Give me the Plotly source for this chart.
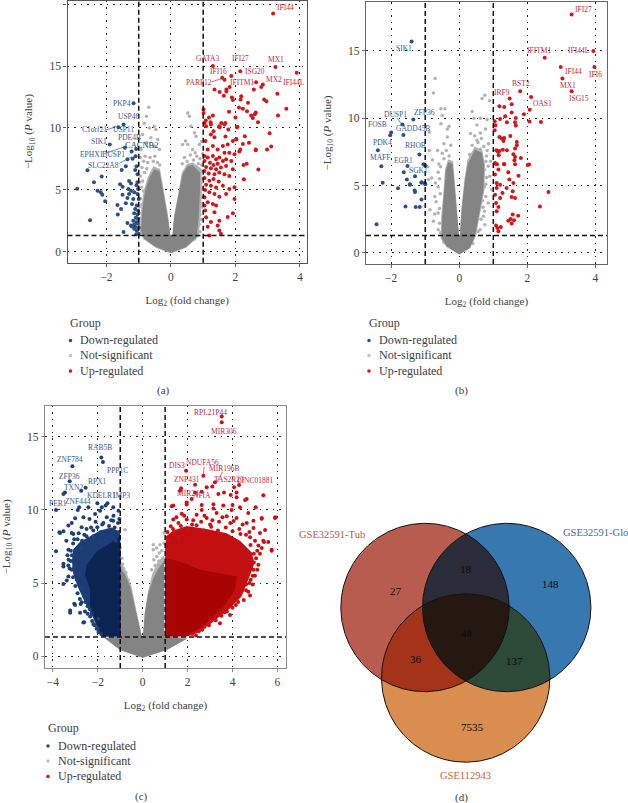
import numpy as np
import plotly.graph_objects as go

W, H = 628, 803
SERIF = "Liberation Serif"
BLUE, RED, LGREY, DGREY = "#2d4f86", "#d2161c", "#b2b2b2", "#848484"
TXT = "#404040"

# ---------- panel (a) ----------
A_DOWN = [(-1.16,12.0),(-1.47,10.27),(-1.63,10.05),(-1.9,8.66),(-1.43,8.4),(-1.35,7.46),(-1.19,7.5),(-1.1,7.7),(-1.22,8.1),(-1.08,8.3),
(-2.59,6.58),(-2.15,6.07),(-2.39,5.6),(-2.91,5.08),(-2.28,4.92),(-2.18,4.79),(-2.13,4.6),(-2.04,4.06),(-2.51,2.54),(-1.66,3.77),(-1.55,3.45),(-1.65,3.0),(-1.47,1.58),(-1.35,2.3),(-1.24,2.11),
(-1.58,5.45),(-1.5,5.24),(-1.5,4.6),(-1.53,6.6),(-1.4,6.9),(-1.07,6.9),(-1.04,6.25),(-1.11,6.6),(-1.3,5.7),(-1.24,5.5),(-1.04,5.6),(-1.07,5.37),(-1.32,5.05),(-1.24,4.92),(-1.14,4.8),(-1.02,5.05),(-1.3,4.65),(-1.04,4.65),(-1.35,4.33),(-1.17,4.25),(-1.0,4.25),(-1.4,3.9),(-1.21,3.85),(-1.06,3.72),(-1.11,3.45),(-1.02,3.3),(-1.14,3.1),(-1.04,3.0),(-1.09,2.73),(-1.02,2.65),(-1.17,2.5),(-1.07,2.38),(-1.14,2.19),(-1.03,2.25),(-1.21,2.03),(-1.11,1.98),(-1.0,1.92),(-1.06,1.7),(-1.14,1.85),(-1.0,1.45),(-1.08,1.4)]
A_UP = [(3.17,19.25),(1.30,15.0),(2.15,14.58),(3.24,14.93),(3.90,14.45),(1.87,14.2),(1.59,14.05),(1.66,13.9),(1.82,13.3),(1.72,13.1),(1.35,13.1),(1.51,12.9),(1.72,12.95),(2.64,13.7),(2.85,13.5),(2.8,13.3),(2.57,13.1),(3.3,12.76),(2.89,12.3),(2.96,12.15),(2.18,12.55),(2.16,12.3),(1.89,12.45),(1.64,12.6),(1.92,12.25),(2.39,12.04),(2.11,11.65),(2.23,11.55),(2.36,11.35),(2.63,11.25),(2.6,11.1),(2.49,11.0),(2.54,10.8),(2.7,10.45),(3.58,11.55),(3.32,11.0),(1.8,11.3),(2.0,10.85),(1.01,11.5),(1.01,11.2),(1.3,11.0),(1.18,10.85),(1.08,10.6),(1.23,10.45),(1.56,10.4),(1.69,10.4),(1.51,10.05),(2.06,10.1),(3.06,9.57),(2.29,9.33),(2.03,9.1),(1.69,9.3),(3.11,8.5),(2.98,8.26),(2.63,8.26),(2.42,8.8),(2.23,8.7),(2.15,8.26),
(2.71,6.63),(2.35,7.1),(2.25,7.0),(2.26,5.85),(2.63,8.2),(2.12,8.1),(1.97,5.2),(1.97,4.25),(1.92,3.1),(1.76,2.8),(1.5,2.5),(1.24,2.4),(1.14,2.0),(1.5,1.7),(1.55,1.45),(1.19,1.3),(1.45,2.1),
(1.04,10.4),(1.09,10.13),(1.24,10.27),(1.32,9.73),(1.24,9.47),(1.35,9.25),(1.5,10.13),(1.66,10.27),(1.78,9.87),(2.05,10.05),(1.07,8.93),(1.3,8.53),(1.14,8.26),(1.45,8.26),(1.61,8.53),(1.76,8.66),(1.92,8.93),(2.02,9.06),(1.81,8.0),(1.66,8.0),(1.97,7.86),
(1.04,7.73),(1.14,7.6),(1.3,7.73),(1.4,7.46),(1.5,7.6),(1.61,7.33),(1.71,7.46),(1.87,7.33),(1.04,7.33),(1.21,7.19),(1.32,7.0),(1.45,7.11),(1.09,6.84),(1.24,6.74),(1.4,6.66),(1.55,6.79),(1.71,6.92),(1.92,6.66),(1.04,6.52),(1.17,6.31),(1.35,6.26),(1.5,6.39),(1.66,6.26),(1.81,6.12),
(1.04,5.94),(1.19,5.72),(1.32,5.86),(1.48,5.67),(1.09,5.4),(1.24,5.32),(1.4,5.19),(1.61,5.32),(1.81,5.05),(1.06,4.97),(1.19,4.79),(1.35,4.65),(1.5,4.44),(1.71,4.65),(1.04,4.39),(1.14,3.98),(1.3,3.85),(1.4,3.72),(1.04,3.72),(1.06,3.32),(1.35,3.18),(1.09,2.78)]
A_NS_PTS = [(-0.69,11.66),(-0.76,10.94),(-0.52,10.13),(-0.47,9.87),(-0.67,10.0),(-0.83,10.35),(-0.88,9.47),(-0.62,9.2),(-0.41,9.06),(-0.76,8.8),(-0.52,8.53),(-0.93,8.26),(-0.36,8.26),(0.52,11.2),(0.57,10.94),(0.62,10.13),(0.45,8.93),(0.52,8.66),(0.73,9.6),(0.78,9.33),(0.88,8.66),(0.36,8.66),(0.67,8.26),(0.95,8.9),
(-0.95,7.6),(-0.85,7.3),(-0.8,7.7),(-0.72,7.2),(-0.65,7.6),(-0.55,7.3),(-0.5,7.7),(-0.42,7.2),(-0.35,7.0),(-0.9,6.8),(-0.82,6.4),(-0.75,6.7),(-0.95,6.1),(-0.88,5.7),(-0.92,5.2),(-0.85,4.9),(-0.95,4.3),(-0.9,3.8),(-0.97,3.1),(-0.93,2.7),(-0.95,2.1),(-0.9,1.7),(-0.97,5.6),(-0.98,3.6),(-0.97,2.4),
(0.35,7.1),(0.42,7.6),(0.5,7.3),(0.6,7.8),(0.7,7.4),(0.8,7.7),(0.9,7.5),(0.95,7.0),(0.85,7.1),(0.95,6.5),(0.97,5.9),(0.92,5.5),(0.98,5.1),(0.95,4.4),(0.92,3.9),(0.96,3.6),(0.9,3.0),(0.94,2.6),(0.88,2.2),(0.9,1.6),(0.8,1.3),(0.72,1.0),(0.98,7.9),(0.75,8.0)]
A_NS_HALO = [(0,-0.15),(-0.47,0.3),(-0.85,1.0),(-0.96,1.6),(-0.92,3.6),(-0.85,4.9),(-0.72,6.0),(-0.55,6.9),(-0.34,6.7),(-0.22,4.9),(-0.08,2.8),(-0.02,1.3),(0.04,1.3),(0.09,2.8),(0.24,4.9),(0.34,6.4),(0.5,7.1),(0.68,7.2),(0.95,6.7),(0.96,4.9),(0.92,2.8),(0.86,1.2),(0.47,0.3)]
A_NS_CORE = [(0,-0.1),(-0.47,0.37),(-0.83,1.04),(-0.93,1.71),(-0.88,3.58),(-0.8,4.92),(-0.67,5.99),(-0.52,6.66),(-0.36,6.52),(-0.24,4.92),(-0.1,2.78),(-0.02,1.31),(0.05,1.31),(0.1,2.78),(0.26,4.92),(0.36,6.26),(0.52,6.92),(0.67,7.0),(0.9,6.4),(0.9,4.92),(0.86,2.78),(0.8,1.18),(0.47,0.37)]

# ---------- panel (b) ----------
B_DOWN = [(-1.4,15.7),(-1.35,9.9),(-1.67,9.53),(-2.0,8.94),(-2.03,8.74),(-1.64,8.76),(-2.39,7.62),(-1.17,7.3),(-2.29,6.43),(-1.52,6.46),(-1.05,6.58),(-1.0,6.5),(-1.63,6.0),(-1.3,5.69),(-1.54,5.45),(-2.25,5.22),(-1.45,5.1),(-1.11,5.22),(-1.0,5.1),(-1.8,4.8),(-1.3,4.53),(-1.11,3.96),(-1.31,4.63),(-1.11,5.25),(-1.01,5.2),(-1.58,3.44),(-1.28,3.42),(-1.16,3.42),(-2.43,2.13),(-1.45,5.07)]
B_UP = [(3.3,17.7),(3.94,15.0),(2.51,14.5),(2.98,13.8),(3.97,13.8),(3.03,12.95),(3.3,12.0),(1.79,12.0),(2.11,11.58),(1.48,11.46),(1.54,11.04),(2.07,10.64),(1.18,10.9),(1.32,10.84),(1.9,10.3),(1.54,10.42),(1.35,10.15),(1.2,9.95),(1.66,10.02),(2.06,9.75),(2.4,9.73),(1.64,9.7),(1.4,9.7),(1.66,9.46),(1.04,9.78),(1.06,9.48),(1.04,9.1),(1.5,8.69),(1.18,8.6),(1.25,8.5),(1.32,8.54),(1.3,8.32),(1.69,8.24),(1.69,8.0),(1.64,7.75),(1.09,7.62),(1.14,7.5),(1.18,7.57),(1.28,7.67),(1.4,7.62),(1.59,7.33),(1.64,7.13),(1.16,7.25),(1.81,7.05),(1.62,6.88),(1.06,6.63),(1.11,6.58),(1.32,6.58),(1.64,6.58),(2.01,6.53),(2.05,6.56),
(1.05,6.68),(1.31,6.6),(1.15,6.19),(1.05,5.82),(1.44,5.99),(1.74,5.74),(1.1,5.2),(1.2,5.07),(1.47,5.45),(1.59,5.2),(1.1,4.83),(1.39,4.83),(1.57,4.58),(1.27,4.46),(1.05,4.33),(1.2,4.08),(1.54,4.16),(1.64,4.08),(1.08,3.71),(1.15,3.42),(1.1,3.09),(2.37,3.44),(2.62,4.53),(1.73,2.77),(1.57,2.85),(1.51,2.52),(1.61,2.43),(1.44,2.4),(1.54,2.18),(1.08,2.03),(1.22,1.93),(1.12,1.86),(1.15,1.61)]
B_NS_PTS = [(-0.71,12.95),(-0.76,11.88),(-0.54,10.7),(-0.42,10.7),(-0.5,10.2),(-0.3,9.4),(-0.35,9.2),(-0.88,8.98),(-0.54,9.6),(-0.45,8.1),(-0.64,7.6),(-0.88,7.6),(-0.79,6.9),(-0.6,6.6),(-0.93,6.4),(0.75,11.7),(0.67,11.46),(0.89,11.3),(0.38,10.5),(0.43,10.0),(0.62,10.0),(0.82,9.9),(0.52,9.5),(0.77,9.2),(0.62,8.9),(0.33,8.86),(0.52,8.37),(0.86,8.1),(-0.72,4.2),(-0.62,2.97),(-0.81,5.57),(-0.91,5.45),(-0.76,2.35),(-0.62,1.73),(-0.86,3.2),(0.95,4.7),(0.85,3.7),(0.71,2.72),(0.9,5.7),(0.85,6.44),(0.61,1.73),(0.75,2.1),
(-0.45,7.0),(-0.62,6.0),(-0.7,5.2),(0.8,7.2),(0.92,6.8),(0.78,5.1),(0.7,3.4),(-0.5,7.4),(-0.38,7.6),(-0.3,7.2),(-0.55,6.4),(-0.58,5.5),(-0.62,4.9),(-0.56,4.4),(-0.68,3.8),(-0.58,3.3),(-0.72,2.9),(-0.58,2.2),(-0.55,1.5),(-0.45,0.8),(-0.35,8.6),(-0.25,8.0),(0.3,7.3),(0.38,8.0),(0.45,8.7),(0.55,8.2),(0.65,8.5),(0.72,7.9),(0.62,7.7),(0.82,7.6),(0.78,6.8),(0.74,6.2),(0.8,5.6),(0.74,4.9),(0.78,4.2),(0.68,3.9),(0.74,3.1),(0.64,2.5),(0.55,1.6),(0.4,0.7)]
B_NS_HALO = [(0,-0.12),(-0.38,0.45),(-0.55,1.1),(-0.53,2.7),(-0.46,4.7),(-0.42,6.2),(-0.33,6.95),(-0.18,6.8),(-0.11,4.7),(-0.02,2.2),(-0.01,1.36),(0.02,1.36),(0.06,3.2),(0.15,5.45),(0.24,6.9),(0.45,7.9),(0.68,7.6),(0.76,6.5),(0.74,4.7),(0.62,3.0),(0.49,1.24),(0.32,0.35)]
B_NS_CORE = [(0,-0.12),(-0.37,0.5),(-0.52,1.11),(-0.5,2.72),(-0.44,4.7),(-0.39,6.19),(-0.32,6.73),(-0.2,6.63),(-0.13,4.7),(-0.03,2.23),(-0.01,1.36),(0.02,1.36),(0.07,3.22),(0.17,5.45),(0.26,6.68),(0.46,7.67),(0.66,7.43),(0.73,6.44),(0.71,4.7),(0.59,2.97),(0.46,1.24),(0.31,0.37)]

# ---------- panel (c) ----------
C_DOWN = [(-1.84,13.6),(-1.77,13.28),(-3.13,13.0),(-3.25,11.96),(-2.74,11.32),(-2.54,11.53),(-3.46,11.2),(-3.53,11.09),(-3.86,10.0),(-2.83,10.18),(-2.89,10.0),(-2.42,10.18),(-2.02,10.46),(-1.57,10.46),(-1.65,10.3),(-1.82,10.18),(-2.12,9.73),(-1.9,9.95),(-1.31,10.18),(-1.08,9.95),(-1.04,9.38),(-1.31,9.27),(-3.01,9.43),(-3.31,8.93),(-3.16,9.11),(-3.71,8.47),(-3.53,8.54),(-3.09,8.36),(-2.37,9.38),(-2.64,9.5),(-1.75,9.11),(-2.02,8.82),(-2.72,8.82),(-3.86,7.17),(-3.53,6.31),(-3.31,6.2),(-3.38,5.17),(-3.53,4.94),
(-3.23,3.12),(-3.05,3.58),(-2.72,3.69),(-2.79,2.96),(-2.61,2.32),(-2.57,3.05),(-2.27,2.89),(-1.97,2.55),(-2.05,1.87),(-1.97,1.64),(-3.53,6.13),(-3.23,2.97),(-3.01,3.5),(-2.76,3.57),(-2.64,2.29),(-2.34,2.7),(-3.31,7.28),(-3.68,8.42),(-3.16,8.42),(-3.31,5.45),(-2.94,5.22),(-3.16,5.9),
(-3.4,7.9),(-3.1,7.7),(-2.9,8.0),(-2.6,8.3),(-2.3,8.8),(-2.1,9.2),(-1.6,9.5),(-1.3,9.6),(-3.35,6.9),(-3.2,6.5),(-3.05,6.1),(-3.0,7.2),(-2.85,5.6),(-2.75,4.6),(-2.6,4.1),(-2.45,3.4),(-2.2,2.2),(-2.75,7.4),(-2.5,7.8),(-2.2,8.2),(-1.85,8.5),(-1.5,8.9),
(-3.05,8.0),(-2.85,8.4),(-2.7,7.9),(-2.5,8.2),(-2.35,7.7),(-2.15,8.1),(-1.95,7.8),(-1.75,8.3),(-1.6,7.9),(-1.4,8.3),(-1.2,7.9),(-1.05,8.5),(-1.25,8.8),(-1.55,8.6),(-1.8,9.0),(-2.2,8.6),(-2.5,8.7),(-1.1,9.1),(-1.4,9.3),
(-3.3,6.6),(-3.25,6.0),(-3.2,7.2),(-3.1,5.4),(-3.15,6.9),(-3.0,4.8),(-2.9,4.3),(-2.8,3.9),(-2.7,4.7),(-2.55,3.7),(-2.45,2.9),(-2.35,3.2),(-2.25,2.4),(-2.15,2.1),(-2.0,1.9),(-1.85,1.5)]
C_DOWN_MID = [(-0.98,1.33),(-1.75,1.33),(-2.0,1.78),(-2.2,2.59),(-2.55,3.62),(-2.9,4.76),(-3.1,5.68),(-3.15,6.5),(-3.1,7.3),(-2.8,7.8),(-2.34,8.2),(-1.9,8.6),(-1.38,8.8),(-1.01,8.5),(-0.98,7.5)]
C_DOWN_CORE = [(-0.98,1.33),(-1.85,1.33),(-2.05,2.24),(-2.34,3.39),(-2.34,4.53),(-2.57,5.56),(-2.49,6.25),(-2.05,7.16),(-1.45,7.73),(-1.01,8.19)]
C_UP = [(3.52,16.4),(3.52,16.0),(1.93,12.69),(2.7,12.35),(3.22,11.89),(2.33,11.73),(4.29,11.71),(4.07,11.55),(2.85,11.55),(3.1,11.6),(1.71,11.48),(1.66,11.32),(2.63,11.25),(2.33,11.2),(4.18,11.2),(5.37,11.0),(3.37,11.09),(3.62,11.2),(3.92,11.02),(4.63,10.75),(4.56,10.68),(4.18,10.87),(2.18,10.75),(1.36,10.3),(1.96,10.52),(2.63,10.34),(3.15,10.4),(3.59,10.3),(4.0,10.34),(5.03,10.18),(4.33,10.18),(5.3,9.45),(5.9,9.5),(4.7,9.8),(4.93,9.27),(5.45,8.63),(5.37,7.9),(5.74,7.27),(5.22,7.0),(5.15,7.56),(4.78,8.13),
(5.89,9.45),(5.59,7.8),(5.74,7.2),(5.3,7.39),(5.4,7.8),(5.15,6.25),(4.93,5.9),(4.81,5.22),(4.78,4.14),(4.5,3.84),(3.89,2.81),(3.44,2.24),(2.37,1.4),(3.0,2.36),
(1.29,10.25),(1.96,10.37),(1.74,9.75),(1.36,9.34),(1.25,8.88),(1.59,9.11),(1.96,9.34),(2.4,9.68),(2.85,9.45),(3.29,9.79),(3.74,9.57),(4.18,9.45),(4.63,9.11),(4.93,8.76),(5.22,8.42),(5.3,9.4),(3.96,10.0),(3.15,10.1),(2.63,10.0),(1.14,7.96),(1.59,8.08),
(2.2,9.0),(2.6,9.2),(3.0,9.0),(3.4,9.2),(3.9,9.1),(4.3,8.7),(4.6,8.3),(5.0,7.9),(5.1,7.2),(5.05,6.7),(4.95,6.4),(4.85,6.6),(4.6,4.9),(4.4,4.4),(4.15,3.5),(3.65,3.0),(3.2,2.6),(2.75,2.0),(2.5,1.7),
(1.5,9.5),(1.85,9.6),(2.25,9.3),(2.75,9.6),(3.1,9.3),(3.55,9.5),(4.05,9.25),(4.45,9.0),
(1.1,8.5),(1.35,8.7),(1.7,8.9),(2.05,8.7),(2.4,8.95),(2.7,8.6),(3.05,8.85),(3.35,8.6),(3.7,8.8),(4.0,8.55),(4.35,8.35),(4.75,8.5),
(4.8,7.6),(4.95,7.0),(5.1,5.9),(5.0,5.5),(4.9,4.9),(4.7,4.4),(4.25,3.7),(4.0,3.3),(3.75,3.05),(3.5,2.75),(3.25,2.45),(2.95,2.1),(2.65,1.8),(2.2,1.5),(4.6,4.5),(4.75,5.0),(4.9,5.5)]
C_UP_MID = [(1.0,1.33),(1.96,1.33),(2.4,1.56),(3.15,2.36),(3.89,3.27),(4.4,4.07),(4.7,5.22),(4.95,6.25),(4.88,7.05),(4.33,7.9),(3.74,8.4),(2.85,8.7),(1.96,8.9),(1.36,8.6),(1.04,8.2),(1.0,7.28)]
C_UP_CORE = [(1.0,1.33),(2.03,1.37),(2.85,2.24),(3.59,3.34),(4.11,4.53),(4.18,5.45),(3.44,5.67),(2.55,5.9),(1.66,6.48),(1.0,6.71)]
C_NS_PTS = [(-0.79,8.65),(-1.0,7.4),(-0.93,6.7),(0.47,7.62),(0.62,7.39),(0.77,7.62),(0.47,7.28),(0.62,6.82),(0.74,7.05),(0.95,8.42),(0.95,7.73),(-0.85,6.0),(-0.65,5.2),(0.55,6.2),(0.4,5.9),(0.85,7.2),(0.5,6.6),(0.72,6.5),(0.9,6.7),(-0.9,6.3),(-0.75,5.7)]
C_NS_HALO = [(-0.98,6.5),(-0.74,5.8),(-0.5,4.76),(-0.3,3.39),(-0.13,2.01),(-0.04,1.33),(0.01,1.33),(0.08,2.93),(0.22,4.3),(0.42,5.6),(0.65,6.4),(0.96,6.9),(0.96,1.33),(2.0,1.25),(1.07,0.41),(0,-0.11),(-1.01,0.41),(-1.72,1.25),(-0.98,1.33)]
C_NS_CORE = [(-0.98,6.0),(-0.79,5.6),(-0.56,4.76),(-0.34,3.39),(-0.15,2.01),(-0.04,1.33),(0.01,1.33),(0.1,2.93),(0.25,4.3),(0.47,5.3),(0.7,6.0),(0.96,6.5),(0.96,1.33),(1.96,1.17),(1.07,0.41),(0,-0.11),(-1.01,0.41),(-1.68,1.21),(-0.98,1.33)]

# ---------- panel (d) ----------
VENN_SETS = ["GSE32591-Tub", "GSE32591-Glo", "GSE112943"]
VENN_COUNTS = [27, 18, 148, 48, 36, 137, 7535]

# gene labels: text and where they sit on the page
A_LABELS_DOWN = [("PKP4",122,103),("USP46",129,116.7),("C1orf21",94.3,129.7),("USP11",123.3,129.7),("PDE4B",129.7,137),("SIK1",98.7,141.7),("EPHX1",92.3,154.7),("DUSP1",113.3,154.7),("SLC22A8",103,165.7)]
A_LABELS_UP = [("IFI44",285,7),("GATA3",207.5,58.7),("IFI27",240,58.3),("MX1",276,59.7),("IFI16",218.7,71),("ISG20",254.7,71),("PARP12",198.7,82.3),("IFITM1",242,83),("MX2",274.3,79.7),("IFI44L",294.3,83)]
B_LABELS_DOWN = [("SIK1",404,48),("ZFP36",424,112),("DUSP1",395.7,114),("FOSB",377.3,124.3),("GADD45B",413,129),("PDK4",382.7,142.7),("RHOB",415.7,145.7),("MAFF",380,157.3),("EGR1",403.3,160),("SGK1",418.3,170.7)]
B_LABELS_UP = [("IFI27",583,9.3),("IFITM1",539,50.7),("IFI44L",579,50.7),("IFI44",573.3,71.7),("IFI6",595,74.3),("BST2",521.3,84),("MX1",568,85.7),("IRF9",501.7,92.7),("ISG15",579.3,98.7),("OAS1",542.7,103.7)]
C_LABELS_DOWN = [("RAB5B",99.7,447.7),("ZNF784",69.7,460),("PPP1C",117.7,470),("ZFP36",69.7,476),("RPX1",97.7,481.3),("TXN2",73.7,487.3),("KDELR1",101.7,495.7),("IMP3",121.7,495.7),("ZNF444",78,501),("PER1",58,504)]
C_LABELS_UP = [("RPL21P44",210.3,412.3),("MIR306",224,431),("DIS3",177,465.3),("NDUFA56",202.7,462.7),("MIR196B",224,468.7),("ZNF431",186.7,479.3),("TAS2R20",229.3,479.3),("LINC01881",255,481),("MIR24",188.3,493.3),("NFIA",202.3,495)]

PANELS = [
    dict(ax="", l=67.5, r=307, t=0.5, b=262.7, xr=[-3.21, 4.22], yr=[-0.9, 20.3], xt=[-2,0,2,4], yt=[0,5,10,15,20], line="#555555",
         down=A_DOWN, up=A_UP, ns=A_NS_PTS, halo=A_NS_HALO, core=A_NS_CORE),
    dict(ax="2", l=366, r=607, t=2, b=264, xr=[-2.74, 4.34], yr=[-0.82, 18.63], xt=[-2,0,2,4], yt=[0,5,10,15], line="#666666",
         down=B_DOWN, up=B_UP, ns=B_NS_PTS, halo=B_NS_HALO, core=B_NS_CORE),
    dict(ax="3", l=45, r=286, t=405.7, b=668, xr=[-4.35, 6.38], yr=[-0.82, 17.14], xt=[-4,-2,0,2,4,6], yt=[0,5,10,15], line="#8a8a8a",
         down=C_DOWN, up=C_UP, ns=C_NS_PTS, halo=C_NS_HALO, core=C_NS_CORE),
]

fig = go.Figure()
layout = dict(width=W, height=H, margin=dict(l=0, r=0, t=0, b=0), paper_bgcolor="white", plot_bgcolor="white",
              showlegend=False, font=dict(family=SERIF, color=TXT, size=11))

def poly(pts, color, xa, ya):
    fig.add_trace(go.Scatter(x=[p[0] for p in pts], y=[p[1] for p in pts], mode="lines", fill="toself",
                             fillcolor=color, line=dict(width=0, color=color), xaxis=xa, yaxis=ya, hoverinfo="skip"))

def dots(pts, color, name, xa, ya, size=4):
    fig.add_trace(go.Scatter(x=[p[0] for p in pts], y=[p[1] for p in pts], mode="markers", name=name,
                             marker=dict(size=size, color=color, line=dict(width=0)), xaxis=xa, yaxis=ya))

shapes, annots = [], []
def px(x): return x / W
def py(y): return 1 - y / H
def page_text(text, x, y, size, color, anchor="center", **kw):
    annots.append(dict(text=text, x=px(x), y=py(y), xref="paper", yref="paper", showarrow=False, xanchor=anchor,
                       yanchor="middle", font=dict(family=SERIF, size=size, color=color), **kw))
def page_line(x0, y0, x1, y1, color):
    shapes.append(dict(type="line", xref="paper", yref="paper", x0=px(x0), y0=py(y0), x1=px(x1), y1=py(y1), line=dict(color=color, width=0.7)))

for i, p in enumerate(PANELS):
    xa, ya = "x" + p["ax"], "y" + p["ax"]
    common = dict(showline=True, mirror=True, linecolor=p["line"], linewidth=1.2, ticks="outside", ticklen=3, tickwidth=1,
                  tickcolor=p["line"], showgrid=True, gridcolor="#222222", griddash="1.5px,5px", gridwidth=1.4, zeroline=False,
                  tickfont=dict(family=SERIF, size=11.5, color=TXT))
    layout["xaxis" + p["ax"]] = dict(common, domain=[px(p["l"]), px(p["r"])], range=p["xr"], tickvals=p["xt"], anchor=ya,
                                     title=dict(text="Log<sub>2</sub> (fold change)", standoff=14, font=dict(family=SERIF, size=11, color=TXT)))
    layout["yaxis" + p["ax"]] = dict(common, domain=[py(p["b"]), py(p["t"])], range=p["yr"], tickvals=p["yt"], anchor=xa,
                                     title=dict(text="\u2212Log<sub>10</sub> (<i>P</i> value)", standoff=14, font=dict(family=SERIF, size=11, color=TXT)))
    poly(p["halo"], LGREY, xa, ya)
    dots(p["ns"], LGREY, "Not-significant", xa, ya, 3.5)
    poly(p["core"], DGREY, xa, ya)
    if i == 2:
        poly(C_DOWN_MID, "#1c3c76", xa, ya)
        poly(C_DOWN_CORE, "#0b2452", xa, ya)
        poly(C_UP_MID, "#c40f10", xa, ya)
        poly(C_UP_CORE, "#a80404", xa, ya)
    dots(p["down"], "#1e3f78" if i == 2 else BLUE, "Down-regulated", xa, ya)
    dots(p["up"], "#cc1014" if i == 2 else RED, "Up-regulated", xa, ya)
    for v, k in [(-1, "x"), (1, "x"), (1.3, "y")]:
        ln = dict(type="line", line=dict(color="#111111", width=1.5, dash="5px,3px"), layer="above")
        if k == "x":
            ln.update(xref=xa, yref=ya + " domain", x0=v, x1=v, y0=0, y1=1)
        else:
            ln.update(xref=xa + " domain", yref=ya, x0=0, x1=1, y0=v, y1=v)
        shapes.append(ln)

    # group key
    base = 340.5 if i < 2 else 746
    step = [0, 15, 30.5]
    page_text("Group", p["l"] + 0.5, base - 18, 12, TXT, "left")
    for j, (lab, col) in enumerate([("Down-regulated", BLUE), ("Not-significant", "#c4c4c4"), ("Up-regulated", RED)]):
        dx = p["l"] + 3
        shapes.append(dict(type="circle", xref="paper", yref="paper", x0=px(dx - 1.8), x1=px(dx + 1.8), y0=py(base + step[j] + 1.8), y1=py(base + step[j] - 1.8),
                           fillcolor=col, line=dict(width=0)))
        page_text(lab, p["l"] + 10.5, base + step[j] - 0.5, 12, TXT, "left")

LBLUE, LRED = "#3a5a8c", "#bd2a3e"
for rows, col in [(A_LABELS_DOWN, LBLUE), (A_LABELS_UP, LRED), (B_LABELS_DOWN, LBLUE), (B_LABELS_UP, LRED), (C_LABELS_DOWN, LBLUE), (C_LABELS_UP, LRED)]:
    for t, x, y in rows:
        page_text(t, x, y, 7.5, col)
page_text("CACNB2", 142.3, 145.3, 8.5, "#24406e")
page_line(211.7, 81.7, 222.7, 78.3, LRED)
page_line(106, 130, 116, 126.7, LBLUE)
page_line(103.3, 154, 126.7, 146, LBLUE)
page_line(119.3, 163.3, 131.7, 156.7, LBLUE)
page_line(397.3, 118.3, 401.3, 124, LBLUE)
page_line(204, 466.7, 203.3, 476.7, LRED)
page_line(222.7, 471.7, 216, 483.3, LRED)

page_text("(a)", 163, 391, 11, TXT)
page_text("(b)", 461.7, 391, 11, TXT)
page_text("(c)", 141, 796, 11, TXT)
page_text("(d)", 461.7, 797, 11, TXT)

# ---------- Venn: axes in page pixels ----------
layout["xaxis4"] = dict(domain=[px(330), px(620)], range=[330, 620], visible=False, anchor="y4")
layout["yaxis4"] = dict(domain=[py(780), py(510)], range=[780, 510], visible=False, anchor="x4")
CIRCLES = [(425, 607.5, 84.2), (506.7, 607.5, 84.2), (465.7, 678, 84.2)]
theta = np.linspace(0, 2 * np.pi, 721)

def region(idx):
    pts = []
    for i in idx:
        cx, cy, r = CIRCLES[i]
        xs, ys = cx + r * np.cos(theta), cy + r * np.sin(theta)
        keep = np.ones_like(xs, dtype=bool)
        for j in idx:
            if j != i:
                keep &= (xs - CIRCLES[j][0]) ** 2 + (ys - CIRCLES[j][1]) ** 2 <= CIRCLES[j][2] ** 2
        pts.append(np.c_[xs[keep], ys[keep]])
    pts = np.vstack(pts)
    c = pts.mean(axis=0)
    order = np.argsort(np.arctan2(pts[:, 1] - c[1], pts[:, 0] - c[0]))
    return pts[order].tolist()

for idx, col in [((0,), "#b85c4f"), ((1,), "#3878b0"), ((2,), "#d98d4e"), ((0, 1), "#2a2d39"), ((0, 2), "#a5331a"), ((1, 2), "#2d4a38"), ((0, 1, 2), "#241810")]:
    poly(region(idx), col, "x4", "y4")
for cx, cy, r in CIRCLES:
    fig.add_trace(go.Scatter(x=cx + r * np.cos(theta), y=cy + r * np.sin(theta), mode="lines", line=dict(color="#111111", width=1), xaxis="x4", yaxis="y4", hoverinfo="skip"))

VENN_POS = [(395.7, 590.7), (465.7, 569), (550.7, 584.3), (467, 632.7), (416, 659), (514.3, 661.3), (472.7, 727)]
for n, (x, y) in zip(VENN_COUNTS, VENN_POS):
    page_text(str(n), x, y, 11, "#0a0a0a")
page_text(VENN_SETS[0], 367, 534, 10.5, "#b5564e", "right")
page_text(VENN_SETS[1], 561.3, 532.3, 10.5, "#3a6a9a", "left")
page_text(VENN_SETS[2], 465.7, 775, 10.5, "#cf5f3a")

layout["shapes"] = shapes
layout["annotations"] = annots
fig.update_layout(**layout)
fig.write_html("out.html", post_script="document.body.style.margin='0';", config={"displayModeBar": False})
